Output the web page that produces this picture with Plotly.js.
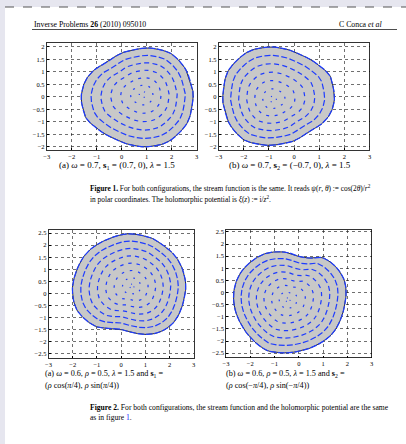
<!DOCTYPE html>
<html><head><meta charset="utf-8">
<script src="https://cdn.plot.ly/plotly-3.0.1.min.js"></script>
<style>html,body{margin:0;padding:0;background:#e6e6ef;overflow:hidden;} #chart{width:406px;height:444px;}</style>
</head><body><div id="chart"></div>
<script>
// ---- Data ----
// Boundary of each obstacle (counter-clockwise), data units
const b1x = [2.86, 2.81, 2.57, 2.04, 1.5, 0.97, 0.31, -0.09, -0.4, -0.75, -1.09, -1.43, -1.59, -1.62, -1.59, -1.43, -1.16, -0.9, -0.63, -0.09, 0.31, 0.97, 1.77, 2.37, 2.71];
const b1y = [0.02, 0.36, 1.09, 1.69, 1.9, 1.96, 1.85, 1.72, 1.52, 1.3, 1.09, 0.69, 0.23, -0.05, -0.31, -0.84, -1.13, -1.33, -1.51, -1.77, -1.91, -2.0, -1.84, -1.37, -0.84];
const b2x = [-2.84, -2.8, -2.57, -2.04, -1.5, -0.97, -0.31, 0.09, 0.4, 0.75, 1.09, 1.43, 1.59, 1.6, 1.57, 1.43, 1.16, 0.9, 0.63, 0.09, -0.31, -0.97, -1.77, -2.37, -2.71];
const b2y = [-0.02, -0.36, -1.09, -1.69, -1.88, -1.94, -1.85, -1.72, -1.52, -1.3, -1.09, -0.69, -0.23, 0.05, 0.31, 0.84, 1.13, 1.33, 1.51, 1.77, 1.91, 2.0, 1.84, 1.37, 0.84];
const b3x = [2.67, 2.6, 2.4, 2.12, 1.65, 1.15, 0.23, -0.73, -1.4, -1.8, -2.01, -1.9, -1.56, -1.07, -0.59, -0.11, 0.37, 0.99, 1.61, 2.16, 2.5];
const b3y = [0.2, 0.8, 1.3, 1.68, 2.06, 2.33, 2.47, 2.17, 1.7, 1.05, 0.24, -0.53, -1.01, -1.36, -1.45, -1.47, -1.6, -1.7, -1.6, -1.22, -0.6];
const b4x = [1.95, 1.88, 1.6, 1.25, 0.93, 0.5, 0.04, -0.45, -0.92, -1.4, -1.87, -2.3, -2.58, -2.69, -2.6, -2.3, -1.95, -1.55, -1.19, -0.51, 0.1, 0.59, 1.1, 1.5, 1.8];
const b4y = [-0.1, 0.5, 0.98, 1.3, 1.45, 1.42, 1.48, 1.65, 1.68, 1.6, 1.35, 0.95, 0.45, -0.15, -0.8, -1.45, -1.9, -2.25, -2.43, -2.49, -2.4, -2.24, -1.95, -1.55, -0.9];
// Vortex centres
const c1 = [0.85, 0.1], c2 = [-0.85, -0.1], c3 = [0.45, 0.3], c4 = [-0.45, -0.3];
// Relative size of each ring of velocity dashes
const ringsA = [1, 0.84, 0.68, 0.52, 0.36, 0.2, 0.06];
const ringsB = [1, 0.86, 0.72, 0.58, 0.44, 0.3, 0.16, 0.04];
// Tick labels
const xTicks = [-3, -2, -1, 0, 1, 2, 3];
const yTicksA = [-2, -1.5, -1, -0.5, 0, 0.5, 1, 1.5, 2];
const yTicksB = [-2.5, -2, -1.5, -1, -0.5, 0, 0.5, 1, 1.5, 2, 2.5];

// ---- helpers ----
function smoothClosed(xs, ys, k) {
  const n = xs.length, X = [], Y = [];
  for (let i = 0; i < n; i++) {
    const i0 = (i - 1 + n) % n, i2 = (i + 1) % n, i3 = (i + 2) % n;
    for (let s = 0; s < k; s++) {
      const t = s / k, t2 = t * t, t3 = t2 * t;
      const f = (a, b, c, d) => 0.5 * ((2 * b) + (-a + c) * t + (2 * a - 5 * b + 4 * c - d) * t2 + (-a + 3 * b - 3 * c + d) * t3);
      X.push(f(xs[i0], xs[i], xs[i2], xs[i3]));
      Y.push(f(ys[i0], ys[i], ys[i2], ys[i3]));
    }
  }
  return { x: X, y: Y };
}
function pointAt(px, py, cum, s) {
  const n = px.length; const total = cum[n];
  s = ((s % total) + total) % total;
  let i = 0; while (i < n - 1 && cum[i + 1] < s) i++;
  const j = (i + 1) % n; const seg = cum[i + 1] - cum[i] || 1e-9; const t = (s - cum[i]) / seg;
  return [px[i] + t * (px[j] - px[i]), py[i] + t * (py[j] - py[i])];
}
function quiver(xs, ys, c, rings, spacing) {
  const sm = smoothClosed(xs, ys, 10);
  const X = [], Y = [];
  rings.forEach((f, r) => {
    const px = sm.x.map(v => c[0] + f * (v - c[0]));
    const py = sm.y.map(v => c[1] + f * (v - c[1]));
    const n = px.length, cum = [0];
    for (let i = 1; i <= n; i++) { const a = i - 1, b = i % n; cum.push(cum[i - 1] + Math.hypot(px[b] - px[a], py[b] - py[a])); }
    const total = cum[n];
    const m = Math.max(3, Math.round(total / spacing));
    const len = 0.03 + 0.25 * f;
    for (let j = 0; j < m; j++) {
      const s = (j + 0.25 + 0.37 * r) * total / m;
      const a = pointAt(px, py, cum, s - len / 2), b = pointAt(px, py, cum, s + len / 2);
      X.push(a[0], b[0], null); Y.push(a[1], b[1], null);
    }
  });
  return { x: X, y: Y };
}

const panels = [
  { bx: b1x, by: b1y, c: c1, rings: ringsA, yr: [-2.14, 2.16], yt: yTicksA, dx: [46.7, 196.7], dy: [43, 150.3] },
  { bx: b2x, by: b2y, c: c2, rings: ringsA, yr: [-2.14, 2.16], yt: yTicksA, dx: [218.7, 369.5], dy: [43, 150.3] },
  { bx: b3x, by: b3y, c: c3, rings: ringsB, yr: [-2.68, 2.63], yt: yTicksB, dx: [48.5, 193.7], dy: [230, 358] },
  { bx: b4x, by: b4y, c: c4, rings: ringsB, yr: [-2.68, 2.58], yt: yTicksB, dx: [226, 371.5], dy: [230, 357.5] }
];
const W = 406, H = 444;
const traces = [], layout = {
  width: W, height: H, margin: { l: 0, r: 0, t: 0, b: 0 },
  paper_bgcolor: '#e6e6ef', plot_bgcolor: '#ffffff', showlegend: false,
  font: { family: 'Liberation Serif, serif', color: '#000' },
  shapes: [], annotations: []
};
panels.forEach((p, k) => {
  const i = k + 1, xa = 'x' + (i === 1 ? '' : i), ya = 'y' + (i === 1 ? '' : i);
  const sm = smoothClosed(p.bx, p.by, 8);
  traces.push({ x: sm.x.concat([sm.x[0]]), y: sm.y.concat([sm.y[0]]), xaxis: xa, yaxis: ya, mode: 'lines', fill: 'toself', fillcolor: '#c8c8c8', line: { color: '#333333', width: 1 }, hoverinfo: 'skip' });
  const q = quiver(p.bx, p.by, p.c, p.rings, 0.34);
  traces.push({ x: q.x, y: q.y, xaxis: xa, yaxis: ya, mode: 'lines', line: { color: 'rgb(30,60,255)', width: 1.2 }, hoverinfo: 'skip' });
  const axCommon = { showline: true, mirror: true, linecolor: '#000', linewidth: 0.8, showgrid: true, gridcolor: '#111', griddash: 'dot', gridwidth: 0.6, zeroline: false, ticks: 'inside', ticklen: 2, tickcolor: '#000', tickfont: { size: 6.5, family: 'Liberation Serif, serif', color: '#000' }, fixedrange: true };
  layout['xaxis' + (i === 1 ? '' : i)] = Object.assign({}, axCommon, { domain: [p.dx[0] / W, p.dx[1] / W], range: [-3, 3], anchor: ya, tickmode: 'array', tickvals: xTicks });
  layout['yaxis' + (i === 1 ? '' : i)] = Object.assign({}, axCommon, { domain: [1 - p.dy[1] / H, 1 - p.dy[0] / H], range: p.yr, anchor: xa, tickmode: 'array', tickvals: p.yt });
});
// page
layout.shapes.push({ type: 'rect', xref: 'paper', yref: 'paper', x0: 5 / W, x1: 1, y0: 0, y1: 1 - 7 / H, fillcolor: '#ffffff', line: { width: 0 }, layer: 'below' });
layout.shapes.push({ type: 'line', xref: 'paper', yref: 'paper', x0: 5 / W, x1: 1, y0: 1 - 7 / H, y1: 1 - 7 / H, line: { color: '#555', width: 1, dash: 'dash' } });
layout.shapes.push({ type: 'line', xref: 'paper', yref: 'paper', x0: 32 / W, x1: 397 / W, y0: 1 - 29.5 / H, y1: 1 - 29.5 / H, line: { color: '#000', width: 0.7 } });
function ann(text, x, y, size, xanchor) {
  layout.annotations.push({ text: text, xref: 'paper', yref: 'paper', x: x / W, y: 1 - y / H, xanchor: xanchor || 'left', yanchor: 'middle', showarrow: false, font: { size: size, family: 'Liberation Serif, serif', color: '#000' } });
}
ann('Inverse Problems <b>26</b> (2010) 095010', 32, 24, 7.8);
ann('C Conca <i>et al</i>', 384, 24, 7.8, 'right');
ann('(a) <i>ω</i> = 0.7, <b>s</b><sub>1</sub> = (0.7, 0), <i>λ</i> = 1.5', 117, 165, 9, 'center');
ann('(b) <i>ω</i> = 0.7, <b>s</b><sub>2</sub> = (−0.7, 0), <i>λ</i> = 1.5', 290, 165, 9, 'center');
ann('<b>Figure 1.</b> For both configurations, the stream function is the same. It reads <i>ψ</i>(<i>r</i>, <i>θ</i>) := cos(2<i>θ</i>)/<i>r</i><sup>2</sup>', 88, 188.5, 7.35);
ann('in polar coordinates. The holomorphic potential is <i>ξ</i>(<i>z</i>) := i/<i>z</i><sup>2</sup>.', 88, 199, 7.35);
ann('(a) <i>ω</i> = 0.6, <i>ρ</i> = 0.5, <i>λ</i> = 1.5 and <b>s</b><sub>1</sub> =', 43, 374, 8.2);
ann('(<i>ρ</i> cos(<i>π</i>/4), <i>ρ</i> sin(<i>π</i>/4))', 43, 385, 8.2);
ann('(b) <i>ω</i> = 0.6, <i>ρ</i> = 0.5, <i>λ</i> = 1.5 and <b>s</b><sub>2</sub> =', 224, 374, 8.2);
ann('(<i>ρ</i> cos(−<i>π</i>/4), <i>ρ</i> sin(−<i>π</i>/4))', 224, 385, 8.2);
ann('<b>Figure 2.</b> For both configurations, the stream function and the holomorphic potential are the same', 88, 407, 7.6);
ann('as in figure <span style="color:#1a1aff">1</span>.', 88, 417, 7.6);

Plotly.newPlot('chart', traces, layout, { staticPlot: true, displayModeBar: false });
</script>
</body></html>
